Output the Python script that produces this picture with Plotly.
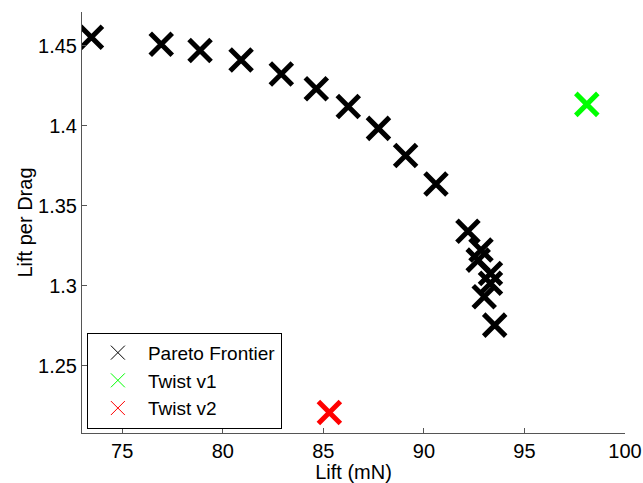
import plotly.graph_objects as go

# Data
pareto_lift = [73.47, 76.94, 78.87, 80.91, 82.91, 84.65, 86.24, 87.74, 89.09, 90.60,
               92.19, 92.84, 92.70, 93.31, 93.31, 93.00, 93.52]
pareto_ld = [1.4552, 1.4508, 1.4469, 1.4410, 1.4323, 1.4231, 1.4119, 1.3983, 1.3813, 1.3635,
             1.3340, 1.3223, 1.3160, 1.3077, 1.3015, 1.2931, 1.2754]
twist1_lift = [98.10]
twist1_ld = [1.4133]
twist2_lift = [85.30]
twist2_ld = [1.2208]

x_ticks = [75, 80, 85, 90, 95, 100]
x_ticktext = ["75", "80", "85", "90", "95", "100"]
y_ticks = [1.25, 1.3, 1.35, 1.4, 1.45]
y_ticktext = ["1.25", "1.3", "1.35", "1.4", "1.45"]

series = [
    ("Pareto Frontier", pareto_lift, pareto_ld, "#000000"),
    ("Twist v1", twist1_lift, twist1_ld, "#00ff00"),
    ("Twist v2", twist2_lift, twist2_ld, "#ff0000"),
]

fig = go.Figure()
for name, xs, ys, col in series:
    fig.add_trace(go.Scatter(
        x=xs, y=ys, mode="markers", name=name, showlegend=False,
        marker=dict(symbol="x-thin-open", size=22, color=col,
                    line=dict(color=col, width=5)),
        hoverinfo="skip"))
for name, xs, ys, col in series:
    fig.add_trace(go.Scatter(
        x=[None], y=[None], mode="markers", name=name, showlegend=True,
        marker=dict(symbol="x-thin-open", size=14, color=col,
                    line=dict(color=col, width=1))))

font = "Liberation Sans, Arial, sans-serif"
fig.update_layout(
    width=643, height=483,
    margin=dict(l=82, r=18, t=12, b=50),
    paper_bgcolor="white", plot_bgcolor="white",
    font=dict(family=font, size=20, color="black"),
    showlegend=True,
    legend=dict(x=0.009, y=0.01, xanchor="left", yanchor="bottom",
                bgcolor="white", bordercolor="black", borderwidth=1,
                font=dict(size=19), tracegroupgap=0, itemsizing="trace",
                itemwidth=50),
    xaxis=dict(range=[73.0, 100.0], tickvals=x_ticks, ticktext=x_ticktext,
               showgrid=False, zeroline=False, showline=True, linecolor="#555555",
               linewidth=1, ticks="inside", ticklen=5, tickcolor="#555555",
               automargin=False,
               title=dict(text="Lift (mN)", standoff=0, font=dict(size=20)),
               tickfont=dict(size=20)),
    yaxis=dict(range=[1.208, 1.471], tickvals=y_ticks, ticktext=y_ticktext,
               showgrid=False, zeroline=False, showline=True, linecolor="#555555",
               linewidth=1, ticks="inside", ticklen=5, tickcolor="#555555",
               automargin=False,
               title=dict(text="Lift per Drag", standoff=0, font=dict(size=20)),
               tickfont=dict(size=20)),
)

fig.write_html("out.html")
